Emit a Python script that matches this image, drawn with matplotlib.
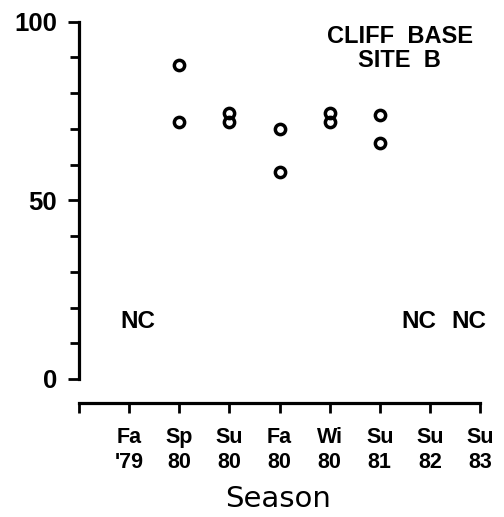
import matplotlib
matplotlib.use("Agg")
import matplotlib.pyplot as plt
from matplotlib.ticker import MultipleLocator, FixedLocator

# ---- data ----
seasons = ["Fa\n'79", "Sp\n80", "Su\n80", "Fa\n80", "Wi\n80", "Su\n81", "Su\n82", "Su\n83"]
sampled_seasons = ["Sp\n80", "Su\n80", "Fa\n80", "Wi\n80", "Su\n81"]
values_first = [88, 74.5, 70, 74.5, 74]
values_second = [72, 72, 58, 72, 66]
nc_seasons = ["Fa\n'79", "Su\n82", "Su\n83"]
nc_value = 16
title_text = "CLIFF  BASE\nSITE  B"
xlabel_text = "Season"
yticks_major = [0, 50, 100]

plt.rcParams["font.family"] = ["Liberation Sans", "DejaVu Sans"]
plt.rcParams["font.weight"] = "bold"

# ---- layout ----
W, H, DPI = 504, 517, 100
fig = plt.figure(figsize=(W / DPI, H / DPI), dpi=DPI)
left_px, right_px, top_px, bottom_px = 79, 480, 21.7, 379
ax = fig.add_axes([left_px / W, (H - bottom_px) / H,
                   (right_px - left_px) / W, (bottom_px - top_px) / H])

pos = {s: i + 1 for i, s in enumerate(seasons)}

xs = [pos[s] for s in sampled_seasons]
for vals in (values_first, values_second):
    ax.plot(xs, vals, linestyle="none", marker="o", markersize=7.4,
            markerfacecolor="none", markeredgecolor="black", markeredgewidth=2.5,
            clip_on=False)

nc_offsets = {"Fa\n'79": 0.18, "Su\n82": -0.22, "Su\n83": -0.22}
for s in nc_seasons:
    ax.text(pos[s] + nc_offsets[s], nc_value, "NC", ha="center", va="center",
            fontsize=17.5, fontweight="bold")

ax.text(6.4, 99.0, title_text, ha="center", va="top", fontsize=17,
        fontweight="bold", linespacing=1.05)

ax.set_xlim(0, len(seasons))
ax.set_ylim(0, 100)

for sp in ["top", "right"]:
    ax.spines[sp].set_visible(False)
ax.spines["left"].set_linewidth(2.3)
ax.spines["bottom"].set_linewidth(2.3)
ax.spines["left"].set_bounds(0, 100)
ax.spines["bottom"].set_bounds(0, len(seasons))
ax.spines["bottom"].set_position(("outward", 17.3))

ax.xaxis.set_major_locator(FixedLocator(range(0, len(seasons) + 1)))
ax.set_xticklabels([""] + seasons, fontsize=15.5, fontweight="bold",
                   linespacing=1.2)
ax.yaxis.set_major_locator(FixedLocator(yticks_major))
ax.yaxis.set_minor_locator(MultipleLocator(10))
ax.set_yticklabels([str(v) for v in yticks_major], fontsize=18.5,
                   fontweight="bold")

ax.tick_params(axis="x", direction="out", length=7, width=2.0, pad=10.5)
ax.tick_params(axis="y", which="major", direction="out", length=8, width=2.0, pad=8)
ax.tick_params(axis="y", which="minor", direction="out", length=6.5, width=2.0)

fig.text(278 / W, (H - 507) / H, xlabel_text, ha="center", va="baseline",
         fontsize=21, family="DejaVu Sans", fontweight="normal")

fig.savefig("out.png", dpi=DPI)
